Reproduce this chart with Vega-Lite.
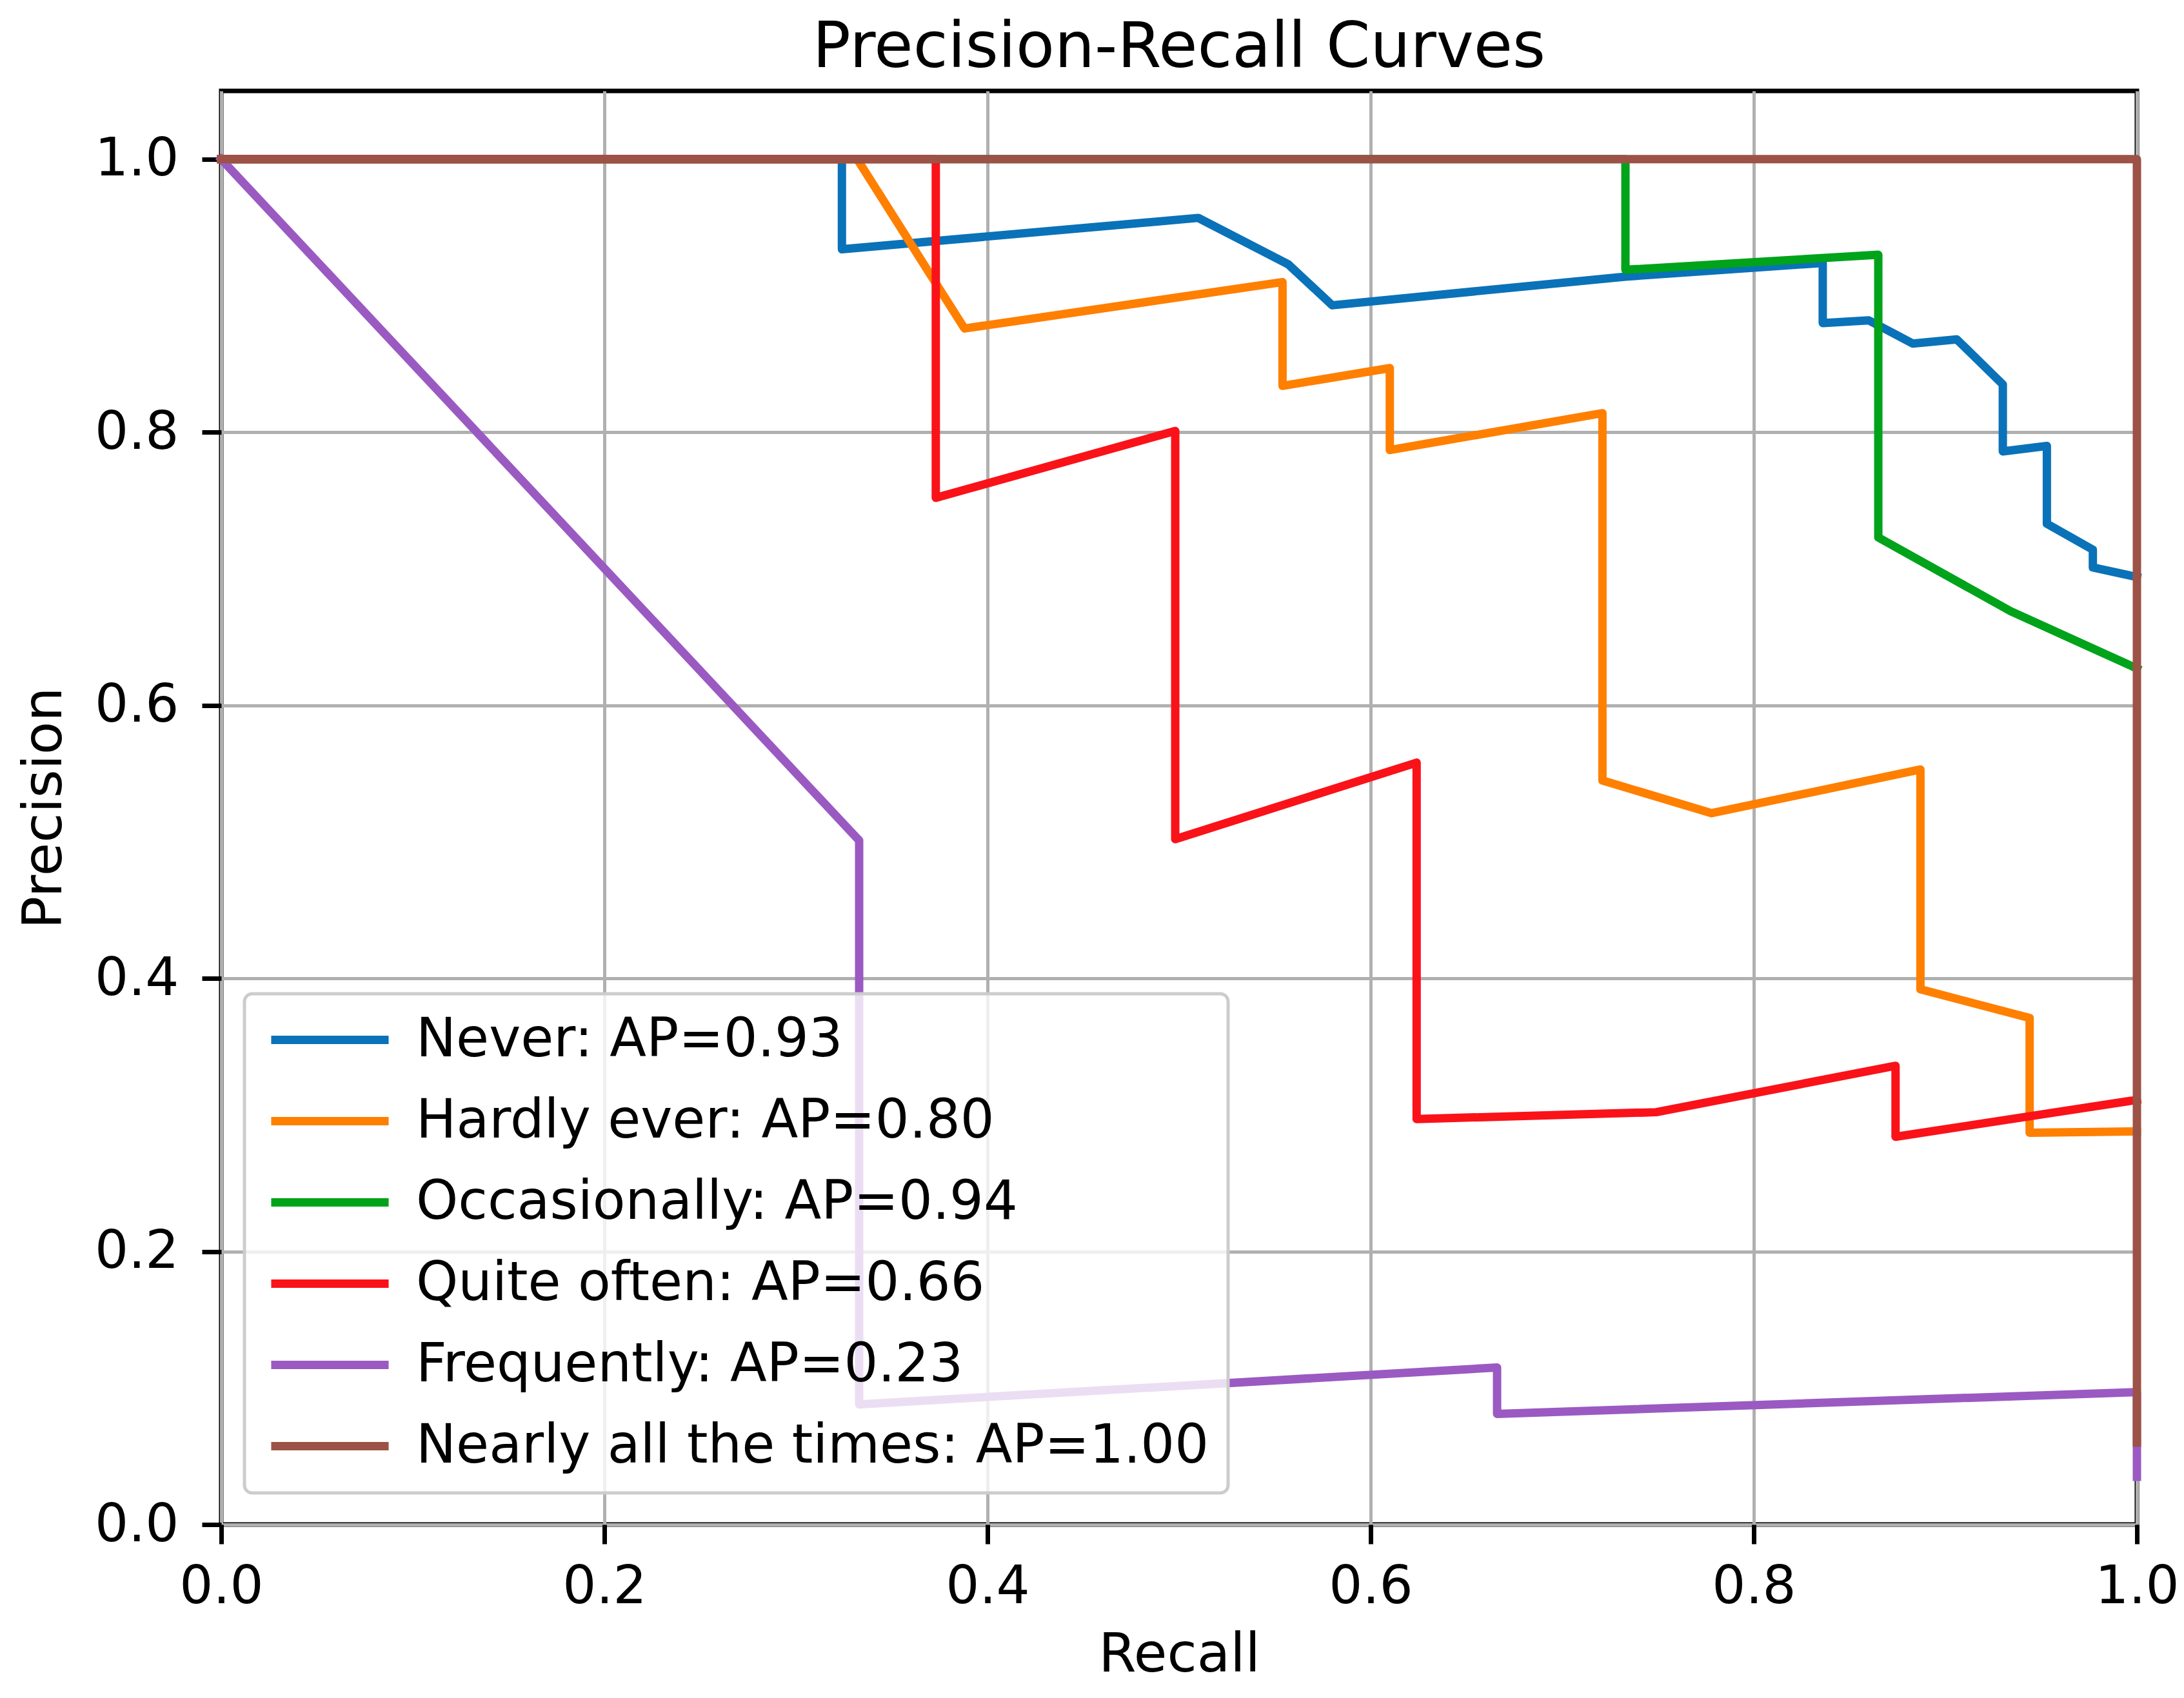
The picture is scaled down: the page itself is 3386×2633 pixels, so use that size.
{
  "$schema": "https://vega.github.io/schema/vega-lite/v6.json",
  "width": 2970,
  "height": 2223,
  "autosize": {"type": "none"},
  "padding": {"left": 343, "top": 141, "right": 73, "bottom": 269},
  "background": "white",
  "title": {
    "text": "Precision-Recall Curves",
    "font": "DejaVu Sans",
    "fontSize": 98,
    "fontWeight": "normal",
    "color": "black",
    "offset": 16
  },
  "config": {
    "view": {"stroke": "black", "strokeWidth": 7},
    "font": "DejaVu Sans"
  },
  "data": {
    "values": [
      {"label": "Never: AP=0.93", "i": 0, "recall": 0, "precision": 1},
      {"label": "Never: AP=0.93", "i": 1, "recall": 0.324, "precision": 1},
      {"label": "Never: AP=0.93", "i": 2, "recall": 0.324, "precision": 0.934},
      {"label": "Never: AP=0.93", "i": 3, "recall": 0.51, "precision": 0.957},
      {"label": "Never: AP=0.93", "i": 4, "recall": 0.557, "precision": 0.923},
      {"label": "Never: AP=0.93", "i": 5, "recall": 0.58, "precision": 0.893},
      {"label": "Never: AP=0.93", "i": 6, "recall": 0.733, "precision": 0.914},
      {"label": "Never: AP=0.93", "i": 7, "recall": 0.836, "precision": 0.924},
      {"label": "Never: AP=0.93", "i": 8, "recall": 0.836, "precision": 0.88},
      {"label": "Never: AP=0.93", "i": 9, "recall": 0.86, "precision": 0.882},
      {"label": "Never: AP=0.93", "i": 10, "recall": 0.883, "precision": 0.865},
      {"label": "Never: AP=0.93", "i": 11, "recall": 0.906, "precision": 0.868},
      {"label": "Never: AP=0.93", "i": 12, "recall": 0.93, "precision": 0.835},
      {"label": "Never: AP=0.93", "i": 13, "recall": 0.93, "precision": 0.786},
      {"label": "Never: AP=0.93", "i": 14, "recall": 0.953, "precision": 0.79},
      {"label": "Never: AP=0.93", "i": 15, "recall": 0.953, "precision": 0.733},
      {"label": "Never: AP=0.93", "i": 16, "recall": 0.977, "precision": 0.714},
      {"label": "Never: AP=0.93", "i": 17, "recall": 0.977, "precision": 0.701},
      {"label": "Never: AP=0.93", "i": 18, "recall": 1, "precision": 0.694},
      {"label": "Hardly ever: AP=0.80", "i": 0, "recall": 0, "precision": 1},
      {"label": "Hardly ever: AP=0.80", "i": 1, "recall": 0.332, "precision": 1},
      {"label": "Hardly ever: AP=0.80", "i": 2, "recall": 0.388, "precision": 0.876},
      {"label": "Hardly ever: AP=0.80", "i": 3, "recall": 0.554, "precision": 0.91},
      {"label": "Hardly ever: AP=0.80", "i": 4, "recall": 0.554, "precision": 0.834},
      {"label": "Hardly ever: AP=0.80", "i": 5, "recall": 0.61, "precision": 0.847},
      {"label": "Hardly ever: AP=0.80", "i": 6, "recall": 0.61, "precision": 0.787},
      {"label": "Hardly ever: AP=0.80", "i": 7, "recall": 0.721, "precision": 0.814},
      {"label": "Hardly ever: AP=0.80", "i": 8, "recall": 0.721, "precision": 0.545},
      {"label": "Hardly ever: AP=0.80", "i": 9, "recall": 0.778, "precision": 0.521},
      {"label": "Hardly ever: AP=0.80", "i": 10, "recall": 0.887, "precision": 0.553},
      {"label": "Hardly ever: AP=0.80", "i": 11, "recall": 0.887, "precision": 0.392},
      {"label": "Hardly ever: AP=0.80", "i": 12, "recall": 0.944, "precision": 0.371},
      {"label": "Hardly ever: AP=0.80", "i": 13, "recall": 0.944, "precision": 0.287},
      {"label": "Hardly ever: AP=0.80", "i": 14, "recall": 1, "precision": 0.288},
      {"label": "Occasionally: AP=0.94", "i": 0, "recall": 0, "precision": 1},
      {"label": "Occasionally: AP=0.94", "i": 1, "recall": 0.733, "precision": 1},
      {"label": "Occasionally: AP=0.94", "i": 2, "recall": 0.733, "precision": 0.919},
      {"label": "Occasionally: AP=0.94", "i": 3, "recall": 0.865, "precision": 0.93},
      {"label": "Occasionally: AP=0.94", "i": 4, "recall": 0.865, "precision": 0.723},
      {"label": "Occasionally: AP=0.94", "i": 5, "recall": 0.934, "precision": 0.669},
      {"label": "Occasionally: AP=0.94", "i": 6, "recall": 1, "precision": 0.627},
      {"label": "Quite often: AP=0.66", "i": 0, "recall": 0, "precision": 1},
      {"label": "Quite often: AP=0.66", "i": 1, "recall": 0.373, "precision": 1},
      {"label": "Quite often: AP=0.66", "i": 2, "recall": 0.373, "precision": 0.752},
      {"label": "Quite often: AP=0.66", "i": 3, "recall": 0.498, "precision": 0.801},
      {"label": "Quite often: AP=0.66", "i": 4, "recall": 0.498, "precision": 0.502},
      {"label": "Quite often: AP=0.66", "i": 5, "recall": 0.624, "precision": 0.558},
      {"label": "Quite often: AP=0.66", "i": 6, "recall": 0.624, "precision": 0.297},
      {"label": "Quite often: AP=0.66", "i": 7, "recall": 0.749, "precision": 0.302},
      {"label": "Quite often: AP=0.66", "i": 8, "recall": 0.874, "precision": 0.336},
      {"label": "Quite often: AP=0.66", "i": 9, "recall": 0.874, "precision": 0.284},
      {"label": "Quite often: AP=0.66", "i": 10, "recall": 1, "precision": 0.311},
      {"label": "Frequently: AP=0.23", "i": 0, "recall": 0, "precision": 1},
      {"label": "Frequently: AP=0.23", "i": 1, "recall": 0.333, "precision": 0.501},
      {"label": "Frequently: AP=0.23", "i": 2, "recall": 0.333, "precision": 0.088},
      {"label": "Frequently: AP=0.23", "i": 3, "recall": 0.666, "precision": 0.115},
      {"label": "Frequently: AP=0.23", "i": 4, "recall": 0.666, "precision": 0.081},
      {"label": "Frequently: AP=0.23", "i": 5, "recall": 1, "precision": 0.097},
      {"label": "Frequently: AP=0.23", "i": 6, "recall": 1, "precision": 0.035},
      {"label": "Nearly all the times: AP=1.00", "i": 0, "recall": 0, "precision": 1},
      {"label": "Nearly all the times: AP=1.00", "i": 1, "recall": 1, "precision": 1},
      {"label": "Nearly all the times: AP=1.00", "i": 2, "recall": 1, "precision": 0.06}
    ]
  },
  "mark": {"type": "line", "strokeWidth": 13, "strokeJoin": "round", "strokeCap": "square"},
  "encoding": {
    "x": {
      "field": "recall",
      "type": "quantitative",
      "scale": {"domain": [0, 1], "nice": false, "zero": false},
      "axis": {
        "values": [0, 0.2, 0.4, 0.6, 0.8, 1],
        "format": ".1f",
        "grid": true,
        "gridColor": "#b0b0b0",
        "gridWidth": 5,
        "domain": false,
        "tickSize": 30,
        "tickWidth": 7,
        "tickColor": "black",
        "labelFont": "DejaVu Sans",
        "labelFontSize": 82,
        "labelColor": "black",
        "labelPadding": 26,
        "labelFlush": false,
        "title": "Recall",
        "titleFont": "DejaVu Sans",
        "titleFontSize": 84,
        "titleFontWeight": "normal",
        "titleColor": "black",
        "titlePadding": 24
      }
    },
    "y": {
      "field": "precision",
      "type": "quantitative",
      "scale": {"domain": [0, 1.05], "nice": false, "zero": false},
      "axis": {
        "values": [0, 0.2, 0.4, 0.6, 0.8, 1],
        "format": ".1f",
        "grid": true,
        "gridColor": "#b0b0b0",
        "gridWidth": 5,
        "domain": false,
        "tickSize": 30,
        "tickWidth": 7,
        "tickColor": "black",
        "labelFont": "DejaVu Sans",
        "labelFontSize": 82,
        "labelColor": "black",
        "labelPadding": 36,
        "labelFlush": false,
        "title": "Precision",
        "titleFont": "DejaVu Sans",
        "titleFontSize": 84,
        "titleFontWeight": "normal",
        "titleColor": "black",
        "titlePadding": 34
      }
    },
    "color": {
      "field": "label",
      "type": "nominal",
      "sort": null,
      "scale": {
        "domain": [
          "Never: AP=0.93",
          "Hardly ever: AP=0.80",
          "Occasionally: AP=0.94",
          "Quite often: AP=0.66",
          "Frequently: AP=0.23",
          "Nearly all the times: AP=1.00"
        ],
        "range": ["#0a72b8", "#ff7f00", "#00a31a", "#fa1219", "#9a5ac2", "#9c5246"]
      },
      "legend": {
        "orient": "none",
        "legendX": 36,
        "legendY": 1400,
        "title": null,
        "symbolType": "M-3,0L3,0",
        "symbolSize": 3684,
        "symbolStrokeWidth": 13,
        "symbolOffset": 61,
        "labelOffset": 92,
        "labelFont": "DejaVu Sans",
        "labelFontSize": 83,
        "labelColor": "black",
        "rowPadding": 42,
        "padding": 30,
        "fillColor": "rgba(255,255,255,0.8)",
        "strokeColor": "#cccccc",
        "cornerRadius": 12,
        "labelLimit": 2000,
        "encode": {
          "legend": {"update": {"strokeWidth": {"value": 5}}}
        }
      }
    },
    "order": {"field": "i", "type": "quantitative"}
  }
}
